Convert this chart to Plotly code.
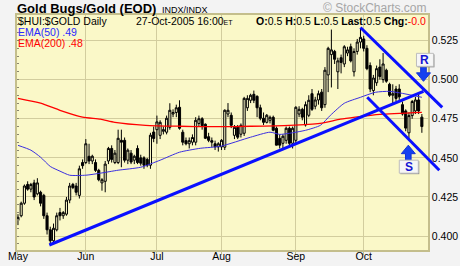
import pandas as pd
import plotly.graph_objects as go

# ---------------- data ----------------
# trading calendar (NYSE, May 2 - Oct 27 2005)
holidays = ["2005-05-30", "2005-07-04", "2005-09-05"]
_days = pd.bdate_range("2005-05-02", "2005-10-27")
_days = _days[~_days.isin(pd.to_datetime(holidays))]
dates = [d.strftime("%Y-%m-%d") for d in _days]

opens = [
    # May
    .410, .413, .421, .433, .430, .434, .427, .428, .426, .413, .404, .397, .404, .415, .413, .414, .423, .433, .432, .426, .447,
    # Jun
    .447, .451, .448, .447, .442, .434, .435, .448, .456, .447, .447, .4612, .4612, .4485, .453, .4485, .456, .450, .450, .449, .4453, .4665,
    # Jul
    .468, .4644, .467, .4664, .4695, .478, .479, .4823, .4664, .461, .459, .460, .460, .472, .475, .4715, .4635, .461, .459, .457,
    # Aug
    .457, .4568, .478, .4772, .4644, .4695, .4651, .4657, .482, .4868, .4906, .4893, .482, .4753, .4727, .474, .4759, .4689, .4625, .4593, .4612, .4689, .4593,
    # Sep
    .4612, .478, .481, .471, .4772, .491, .483, .487, .492, .484, .503, .516, .518, .505, .514, .510, .517, .521, .505, .518, .524,
    # Oct
    .526, .520, .509, .493, .498, .508, .500, .506, .497, .490, .494, .494, .484, .480, .466, .477, .480, .487, .476,
]
highs = [
    .414, .422, .433, .435, .434, .436, .437, .429, .427, .415, .406, .408, .415, .418, .416, .425, .434, .434, .434, .445, .449,
    .462, .459, .452, .449, .443, .437, .448, .457, .458, .455, .468, .468, .463, .456, .455, .452, .458, .452, .451, .450, .466, .470,
    .477, .474, .470, .477, .4849, .481, .484, .4868, .468, .463, .463, .465, .476, .477, .476, .472, .466, .463, .461, .460,
    .462, .481, .485, .479, .471, .471, .472, .489, .490, .491, .493, .490, .484, .479, .478, .477, .477, .470, .465, .465, .470, .470, .470,
    .483, .483, .482, .486, .490, .494, .489, .493, .494, .508, .521, .532, .519, .514, .516, .522, .521, .523, .520, .526, .533,
    .528, .522, .511, .503, .509, .513, .517, .507, .498, .497, .496, .497, .486, .481, .479, .487, .489, .491, .478,
]
lows = [
    .407, .412, .420, .429, .428, .423, .426, .419, .411, .401, .3945, .396, .403, .410, .411, .413, .421, .430, .426, .424, .443,
    .446, .446, .446, .441, .435, .429, .428, .446, .447, .446, .446, .444, .447, .446, .446, .446, .446, .445, .443, .444, .443, .460,
    .459, .462, .465, .465, .468, .476, .476, .468, .458, .458, .456, .458, .458, .470, .468, .462, .460, .457, .455, .454,
    .455, .455, .476, .469, .462, .462, .463, .464, .480, .485, .485, .476, .474, .471, .472, .472, .467, .458, .456, .456, .459, .457, .456,
    .459, .476, .474, .470, .476, .480, .481, .484, .480, .482, .492, .495, .510, .494, .504, .508, .515, .511, .502, .516, .520,
    .518, .506, .492, .490, .496, .500, .498, .498, .489, .484, .486, .487, .477, .467, .461, .475, .478, .478, .466,
]
closes = [
    .412, .421, .432, .430, .433, .425, .434, .421, .413, .404, .397, .405, .413, .413, .415, .423, .432, .431, .428, .443, .445,
    .459, .448, .451, .442, .436, .436, .446, .456, .449, .453, .4625, .460, .4485, .4549, .4473, .451, .447, .4466, .4453, .4453, .4645, .4624,
    .473, .4727, .468, .4753, .4804, .479, .482, .4689, .460, .459, .461, .463, .474, .475, .4705, .4625, .4612, .460, .457, .459,
    .4612, .4804, .4804, .4708, .4695, .4632, .4708, .488, .488, .490, .4868, .482, .4753, .4727, .4772, .4759, .4676, .4581, .4581, .4638, .4689, .4593, .4689,
    .4823, .481, .476, .484, .4868, .481, .487, .491, .482, .506, .520, .519, .513, .512, .511, .521, .519, .512, .518, .524, .527,
    .520, .507, .494, .501, .507, .502, .510, .499, .490, .491, .488, .489, .478, .469, .477, .486, .487, .480, .470,
]

# moving averages (trading-day index, value)
ema50_idx = [0, 4, 7, 10, 13, 16, 21, 25.5, 31, 38, 44, 50, 56.4, 62.7, 72, 78, 81, 84, 89, 93.6, 96.7, 101, 106, 110.6, 115, 119, 125]
ema50_val = [.458, .4549, .4504, .4445, .4415, .4389, .4389, .4402, .4421, .444, .4485, .4536, .4561, .4574, .4632, .4664, .4650, .4657, .4676, .4708, .4772, .4849, .4887, .4919, .4925, .4912, .4887]
ema200_idx = [0, 7, 13, 20, 25.5, 30, 39.5, 50, 61, 72, 84, 93.5, 99.8, 104.4, 112, 125]
ema200_val = [.488, .4849, .4804, .476, .4747, .4727, .4708, .4702, .4699, .4702, .4708, .4721, .4747, .476, .4778, .4791]

# drawn trend lines: (index, price) endpoints
uptrend = [(9.7, .3943), (125.5, .4925)]
channel_upper = [(106.0, .5333), (131.3, .4823)]
channel_lower = [(108.1, .4887), (130.4, .4421)]
# resistance / support marker tips (index, price)
resist_tip = (125.5, .4989)
support_tip = (120.8, .4581)

month_names = ["May", "Jun", "Jul", "Aug", "Sep", "Oct"]
y_ticks = [0.400, 0.425, 0.450, 0.475, 0.500, 0.525]

# ---------------- layout constants ----------------
W, H = 460, 266
ML, MR, MT, MB = 17, 32, 15, 16
PW, PH = W - ML - MR, H - MT - MB
X_RANGE = [-0.3, 126.9]
Y_RANGE = [0.3911, 0.5413]
FONT = "Liberation Sans, Arial, sans-serif"
PLOT_BG = "#faf8c8"
GRID = "#d2cd9e"
AXLINE = "#c4be8c"
BLUE = "#0a10ff"

xi = list(range(len(dates)))
month_pos, seen = [], set()
for i, d in enumerate(dates):
    m = d[:7]
    if m not in seen:
        seen.add(m)
        month_pos.append(i)


def to_paper(ix, p, dx=0.0, dy=0.0):
    px = (ix - X_RANGE[0]) / (X_RANGE[1] - X_RANGE[0]) + dx / PW
    py = (p - Y_RANGE[0]) / (Y_RANGE[1] - Y_RANGE[0]) - dy / PH
    return px, py


def pix(xp, yp):
    """pixel position of page -> paper coords"""
    return (xp - ML) / PW, (H - MB - yp) / PH


fig = go.Figure()
fig.add_trace(go.Candlestick(
    x=xi, open=opens, high=highs, low=lows, close=closes,
    increasing=dict(line=dict(color="black", width=1), fillcolor=PLOT_BG),
    decreasing=dict(line=dict(color="black", width=1), fillcolor="black"),
    whiskerwidth=0, showlegend=False, hoverinfo="skip",
))
fig.add_trace(go.Scatter(x=ema200_idx, y=ema200_val, mode="lines", yaxis="y2",
                         line=dict(color="#ff0000", width=1.3, shape="spline", smoothing=0.6),
                         showlegend=False, hoverinfo="skip"))
fig.add_trace(go.Scatter(x=ema50_idx, y=ema50_val, mode="lines",
                         line=dict(color="#3a2ee0", width=1, shape="spline", smoothing=0.6),
                         showlegend=False, hoverinfo="skip"))

shapes = []
for (a, b) in [uptrend, channel_upper, channel_lower]:
    x0, y0 = to_paper(*a)
    x1, y1 = to_paper(*b)
    shapes.append(dict(type="line", xref="paper", yref="paper", x0=x0, y0=y0, x1=x1, y1=y1,
                       line=dict(color=BLUE, width=3), layer="above"))


def arrow_path(tip, direction):
    # direction: +1 pointing down (tip below), -1 pointing up
    s = direction
    pts = [(0, 0), (-7, -8.5 * s), (-2.8, -8.5 * s), (-2.8, -15 * s), (2.8, -15 * s), (2.8, -8.5 * s), (7, -8.5 * s)]
    coords = [to_paper(tip[0], tip[1], dx, dy) for dx, dy in pts]
    return "M " + " L ".join(f"{x:.5f},{y:.5f}" for x, y in coords) + " Z"


annotations = []


def marker_box(tip, box, label):
    (bx0, by0, bx1, by1) = box
    sx0, sy0 = to_paper(tip[0], tip[1], bx0 + 1, by0 + 1)
    sx1, sy1 = to_paper(tip[0], tip[1], bx1 + 1, by1 + 1)
    shapes.append(dict(type="rect", xref="paper", yref="paper", x0=sx0, y0=sy0, x1=sx1, y1=sy1,
                       fillcolor="#8c8c8c", line=dict(width=0), layer="above"))
    x0, y0 = to_paper(tip[0], tip[1], bx0, by0)
    x1, y1 = to_paper(tip[0], tip[1], bx1, by1)
    shapes.append(dict(type="rect", xref="paper", yref="paper", x0=x0, y0=y0, x1=x1, y1=y1,
                       fillcolor="#f6f6f6", line=dict(color="#bdbdbd", width=1), layer="above"))
    annotations.append(dict(xref="paper", yref="paper", x=(x0 + x1) / 2, y=(y0 + y1) / 2,
                            text=f"<b>{label}</b>", showarrow=False, xanchor="center", yanchor="middle",
                            font=dict(family=FONT, size=12, color="#1414d2")))


shapes.append(dict(type="path", xref="paper", yref="paper", path=arrow_path(resist_tip, 1),
                   fillcolor="#1440f0", line=dict(color="#1030d8", width=1), layer="above"))
shapes.append(dict(type="path", xref="paper", yref="paper", path=arrow_path(support_tip, -1),
                   fillcolor="#1440f0", line=dict(color="#1030d8", width=1), layer="above"))
marker_box(resist_tip, (-7, -28, 10, -15), "R")
marker_box(support_tip, (-9, 15, 10, 28), "S")


def txt(xp, yp, text, size, color="black", anchor="left"):
    x, y = pix(xp, yp)
    annotations.append(dict(xref="paper", yref="paper", x=x, y=y, text=text, showarrow=False,
                            xanchor=anchor, yanchor="middle", borderpad=0,
                            font=dict(family=FONT, size=size, color=color)))


txt(16, 8.5, "<b>Gold Bugs/Gold (EOD)</b>", 13)
txt(161, 9.5, "INDX/INDX", 9)
txt(428, 8, "© StockCharts.com", 12, "#a6a6a6", "right")
txt(17, 21, "$HUI:$GOLD Daily", 10.5)
txt(135, 21, "27-Oct-2005 16:00<span style='font-size:7px'>ET</span>", 10.5)
txt(426.5, 21, "<b>O:</b>0.5 <b>H:</b>0.5 <b>L:</b>0.5 <b>Last:</b>0.5 <b>Chg:</b>"
               "<span style='color:#ff0000'>-0.0</span>", 10.5, "black", "right")
txt(17, 32, "EMA(50) .49", 10.5, "#2a2aff")
txt(17, 43, "EMA(200) .48", 10.5, "#ff0000")

fig.update_layout(
    width=W, height=H,
    margin=dict(l=ML, r=MR, t=MT, b=MB, pad=0, autoexpand=False),
    paper_bgcolor="#f3f3f3", plot_bgcolor=PLOT_BG,
    font=dict(family=FONT, size=10.5, color="black"),
    shapes=shapes, annotations=annotations,
    boxgap=0.08, showlegend=False,
    xaxis=dict(range=X_RANGE, rangeslider=dict(visible=False), tickmode="array", automargin=False,
               tickvals=month_pos, ticktext=month_names, showgrid=True, gridcolor=GRID, gridwidth=1,
               zeroline=False, showline=True, linecolor=AXLINE, linewidth=1.5, mirror=True,
               ticks="outside", ticklen=3, tickcolor=AXLINE, tickfont=dict(size=10.5),
               ticklabelstandoff=-7),
    yaxis=dict(range=Y_RANGE, side="right", tickmode="array", tickvals=y_ticks, automargin=False,
               ticktext=[f"{v:.3f}" for v in y_ticks], showgrid=True, gridcolor=GRID, gridwidth=1,
               zeroline=False, showline=True, linecolor=AXLINE, linewidth=1.5, mirror=True,
               ticks="", tickfont=dict(size=10.5)),
    yaxis2=dict(range=Y_RANGE, overlaying="y", side="left", automargin=False,
                showticklabels=False, showgrid=False, zeroline=False, showline=False,
                tickmode="array", tickvals=y_ticks, ticks="",
                minor=dict(ticks="inside", ticklen=2, tick0=0.4, dtick=0.005,
                           tickcolor="#8a8670", showgrid=False)),
)

fig.write_html("out.html")
